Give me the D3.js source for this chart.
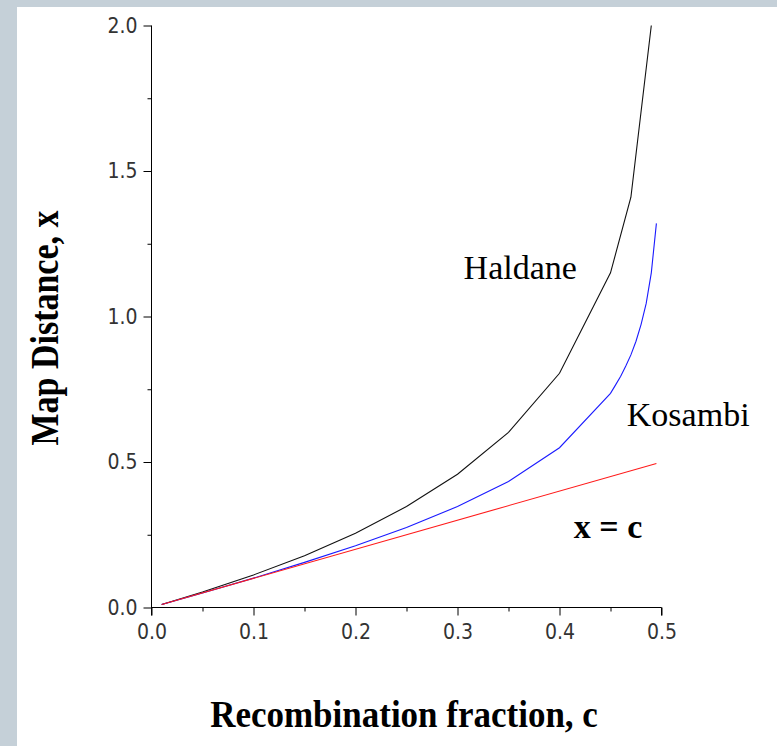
<!DOCTYPE html>
<html>
<head>
<meta charset="utf-8">
<script src="https://cdn.jsdelivr.net/npm/d3@7"></script>
<style>
  html, body { margin: 0; padding: 0; background: #c5d0d8; }
  #chart { position: absolute; left: 17px; top: 7px; }
</style>
</head>
<body>
<div id="chart"></div>
<script>
// Values
const haldaneC = [0.01, 0.05, 0.1, 0.15, 0.2, 0.25, 0.3, 0.35, 0.4, 0.45, 0.47, 0.49];
const haldaneX = [0.01, 0.053, 0.112, 0.178, 0.255, 0.347, 0.458, 0.602, 0.805, 1.15, 1.41, 2.0];
const kosambiC = [0.01, 0.05, 0.1, 0.15, 0.2, 0.25, 0.3, 0.35, 0.4, 0.45, 0.455, 0.46, 0.465, 0.47, 0.475, 0.48, 0.485, 0.49, 0.495];
const kosambiX = [0.01, 0.05, 0.101, 0.155, 0.212, 0.275, 0.347, 0.433, 0.549, 0.736, 0.765, 0.795, 0.83, 0.868, 0.915, 0.973, 1.045, 1.15, 1.32];
const identityC = [0.01, 0.495];
const identityX = [0.01, 0.495];
const xTicks = [0, 0.1, 0.2, 0.3, 0.4, 0.5];
const yTicks = [0, 0.5, 1.0, 1.5, 2.0];

// Chart dimensions (relative to the white panel)
const panelW = 760, panelH = 739;
const margin = { top: 18, left: 134 };
const width = 510, height = 582;

const svg = d3
  .select("#chart")
  .append("svg")
  .attr("width", panelW)
  .attr("height", panelH)
  .style("background", "#fff");

const g = svg.append("g").attr("transform", `translate(${margin.left + 0.5},${margin.top + 0.5})`);

const xScale = d3.scaleLinear().domain([0, 0.5]).range([0, width]);
const yScale = d3.scaleLinear().domain([0, 2]).range([height, 0]);

const tickFont = "'DejaVu Sans Condensed', 'DejaVu Sans', sans-serif";

// X axis: major ticks with labels, minor ticks between
const xAxis = d3.axisBottom(xScale).tickValues(xTicks).tickFormat(d3.format(".1f")).tickSize(8).tickPadding(9);
const xMinor = d3.axisBottom(xScale).tickValues(d3.range(0.05, 0.5, 0.1)).tickFormat("").tickSize(4);
g.append("g").attr("transform", `translate(0,${height})`).call(xMinor).call((s) => s.select(".domain").remove());
const gx = g.append("g").attr("transform", `translate(0,${height})`).call(xAxis);
gx.select(".domain").attr("d", `M0,0H${width}V8`);

// Y axis
const yAxis = d3.axisLeft(yScale).tickValues(yTicks).tickFormat(d3.format(".1f")).tickSize(8).tickPadding(6);
const yMinor = d3.axisLeft(yScale).tickValues([0.25, 0.75, 1.25, 1.75]).tickFormat("").tickSize(4);
g.append("g").call(yMinor).call((s) => s.select(".domain").remove());
const gy = g.append("g").call(yAxis);
gy.select(".domain").attr("d", `M0,${height + 8}V0`);

g.selectAll(".tick text")
  .style("font-family", tickFont)
  .style("font-size", "21px")
  .attr("fill", "#333");
g.selectAll("path, line").attr("stroke", "#000");

// Curves
const line = d3.line().x((d) => xScale(d[0])).y((d) => yScale(d[1]));
const series = [
  { c: haldaneC, x: haldaneX, color: "#111" },
  { c: kosambiC, x: kosambiX, color: "#1a1aff" },
  { c: identityC, x: identityX, color: "#ff1a1a" }
];
series.forEach((s) => {
  g.append("path")
    .datum(s.c.map((c, i) => [c, s.x[i]]))
    .attr("fill", "none")
    .attr("stroke", s.color)
    .attr("stroke-width", 1.1)
    .attr("d", line);
});

// Curve labels
const serif = "'Liberation Serif', 'Times New Roman', serif";
const labels = [
  { text: "Haldane", c: 0.306, x: 1.13, bold: false },
  { text: "Kosambi", c: 0.466, x: 0.625, bold: false },
  { text: "x = c", c: 0.414, x: 0.24, bold: true }
];
g.selectAll(".curve-label")
  .data(labels)
  .enter()
  .append("text")
  .attr("class", "curve-label")
  .attr("x", (d) => xScale(d.c))
  .attr("y", (d) => yScale(d.x))
  .style("font-family", serif)
  .style("font-size", "34px")
  .style("font-weight", (d) => (d.bold ? "bold" : "normal"))
  .text((d) => d.text);

// Axis titles
svg.append("text")
  .attr("transform", "translate(387,720) scale(1,1.1)")
  .attr("text-anchor", "middle")
  .style("font-family", serif)
  .style("font-size", "35px")
  .style("font-weight", "bold")
  .text("Recombination fraction, c");

svg.append("text")
  .attr("transform", "translate(41,321) rotate(-90) scale(1,1.18)")
  .attr("text-anchor", "middle")
  .style("font-family", serif)
  .style("font-size", "34px")
  .style("font-weight", "bold")
  .text("Map Distance, x");
</script>
</body>
</html>
